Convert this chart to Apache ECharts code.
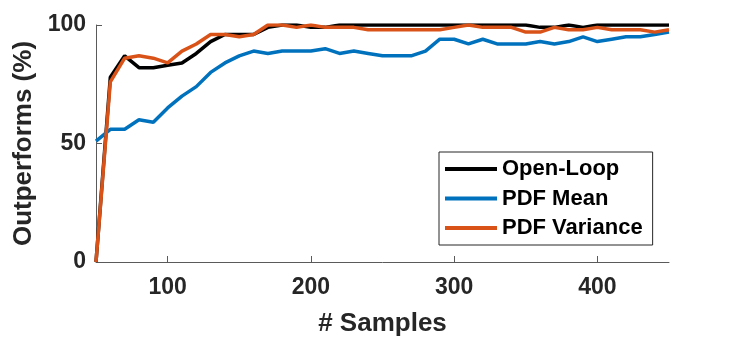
<!DOCTYPE html>
<html>
<head>
<meta charset="utf-8">
<script src="https://cdn.jsdelivr.net/npm/echarts@6/dist/echarts.min.js"></script>
<style>
  html, body { margin: 0; padding: 0; background: #fff; }
  #chart-container { width: 739px; height: 342px; }
</style>
</head>
<body>
<div id="chart-container"></div>
<script>
// x values (number of samples)
const samples = [50, 60, 70, 80, 90, 100, 110, 120, 130, 140, 150, 160, 170, 180, 190, 200,
  210, 220, 230, 240, 250, 260, 270, 280, 290, 300, 310, 320, 330, 340, 350,
  360, 370, 380, 390, 400, 410, 420, 430, 440, 450];

const openLoop = [0, 78, 87, 82, 82, 83, 84, 88, 93, 96, 96, 96, 99, 100, 100, 99,
  99, 100, 100, 100, 100, 100, 100, 100, 100, 100, 100, 100, 100, 100, 100,
  99, 99, 100, 99, 100, 100, 100, 100, 100, 100];

const pdfMean = [51, 56, 56, 60, 59, 65, 70, 74, 80, 84, 87, 89, 88, 89, 89, 89,
  90, 88, 89, 88, 87, 87, 87, 89, 94, 94, 92, 94, 92, 92, 92,
  93, 92, 93, 95, 93, 94, 95, 95, 96, 97];

const pdfVariance = [0, 76, 86, 87, 86, 84, 89, 92, 96, 96, 95, 96, 100, 100, 99, 100,
  99, 99, 99, 98, 98, 98, 98, 98, 98, 99, 100, 99, 99, 99, 97,
  97, 99, 98, 98, 99, 98, 98, 98, 97, 98];

const xTicks = [100, 200, 300, 400];
const yTicks = [0, 50, 100];

const names = ['Open-Loop', 'PDF Mean', 'PDF Variance'];
const colors = ['#000000', '#0072BD', '#D95319'];

function pairs(ys) {
    return samples.map(function (x, i) { return [x, ys[i]]; });
}

const font = 'Liberation Sans, Arial, Helvetica, sans-serif';
const textColor = '#262626';
const axisColor = '#5a5a5a';

const chart = echarts.init(document.getElementById('chart-container'), null, { renderer: 'canvas' });

chart.setOption({
    animation: false,
    backgroundColor: '#fff',
    grid: { left: 96, right: 70, top: 25, bottom: 79, containLabel: false },
    legend: {
        data: names,
        orient: 'vertical',
        left: 439,
        top: 152,
        padding: [6, 10, 6, 6],
        itemGap: 7.5,
        itemWidth: 52,
        itemHeight: 4,
        icon: 'rect',
        backgroundColor: '#fff',
        borderColor: '#262626',
        borderWidth: 1,
        borderRadius: 0,
        textStyle: { fontFamily: font, fontWeight: 'bold', fontSize: 22, lineHeight: 22, color: '#000' }
    },
    xAxis: {
        type: 'value',
        min: 50,
        max: 450,
        interval: 50,
        name: '# Samples',
        nameLocation: 'middle',
        nameGap: 49,
        nameTextStyle: { fontFamily: font, fontWeight: 'bold', fontSize: 26, color: textColor },
        splitLine: { show: false },
        axisLine: { show: true, lineStyle: { color: axisColor, width: 1 } },
        axisTick: { show: true, inside: true, length: 6, customValues: xTicks, lineStyle: { color: axisColor } },
        axisLabel: { customValues: xTicks, margin: 14, fontFamily: font, fontWeight: 'bold', fontSize: 23, color: textColor }
    },
    yAxis: {
        type: 'value',
        min: 0,
        max: 100,
        interval: 50,
        name: 'Outperforms (%)',
        nameLocation: 'middle',
        nameGap: 52,
        nameTextStyle: { fontFamily: font, fontWeight: 'bold', fontSize: 26, color: textColor },
        splitLine: { show: false },
        axisLine: { show: true, lineStyle: { color: axisColor, width: 1 } },
        axisTick: { show: true, inside: true, length: 6, customValues: yTicks, lineStyle: { color: axisColor } },
        axisLabel: { customValues: yTicks, margin: 10, fontFamily: font, fontWeight: 'bold', fontSize: 23, color: textColor }
    },
    series: names.map(function (n, i) {
        return {
            name: n,
            type: 'line',
            data: pairs([openLoop, pdfMean, pdfVariance][i]),
            symbol: 'none',
            color: colors[i],
            lineStyle: { width: 3.5, color: colors[i] },
            z: 2 + i
        };
    })
});
</script>
</body>
</html>
